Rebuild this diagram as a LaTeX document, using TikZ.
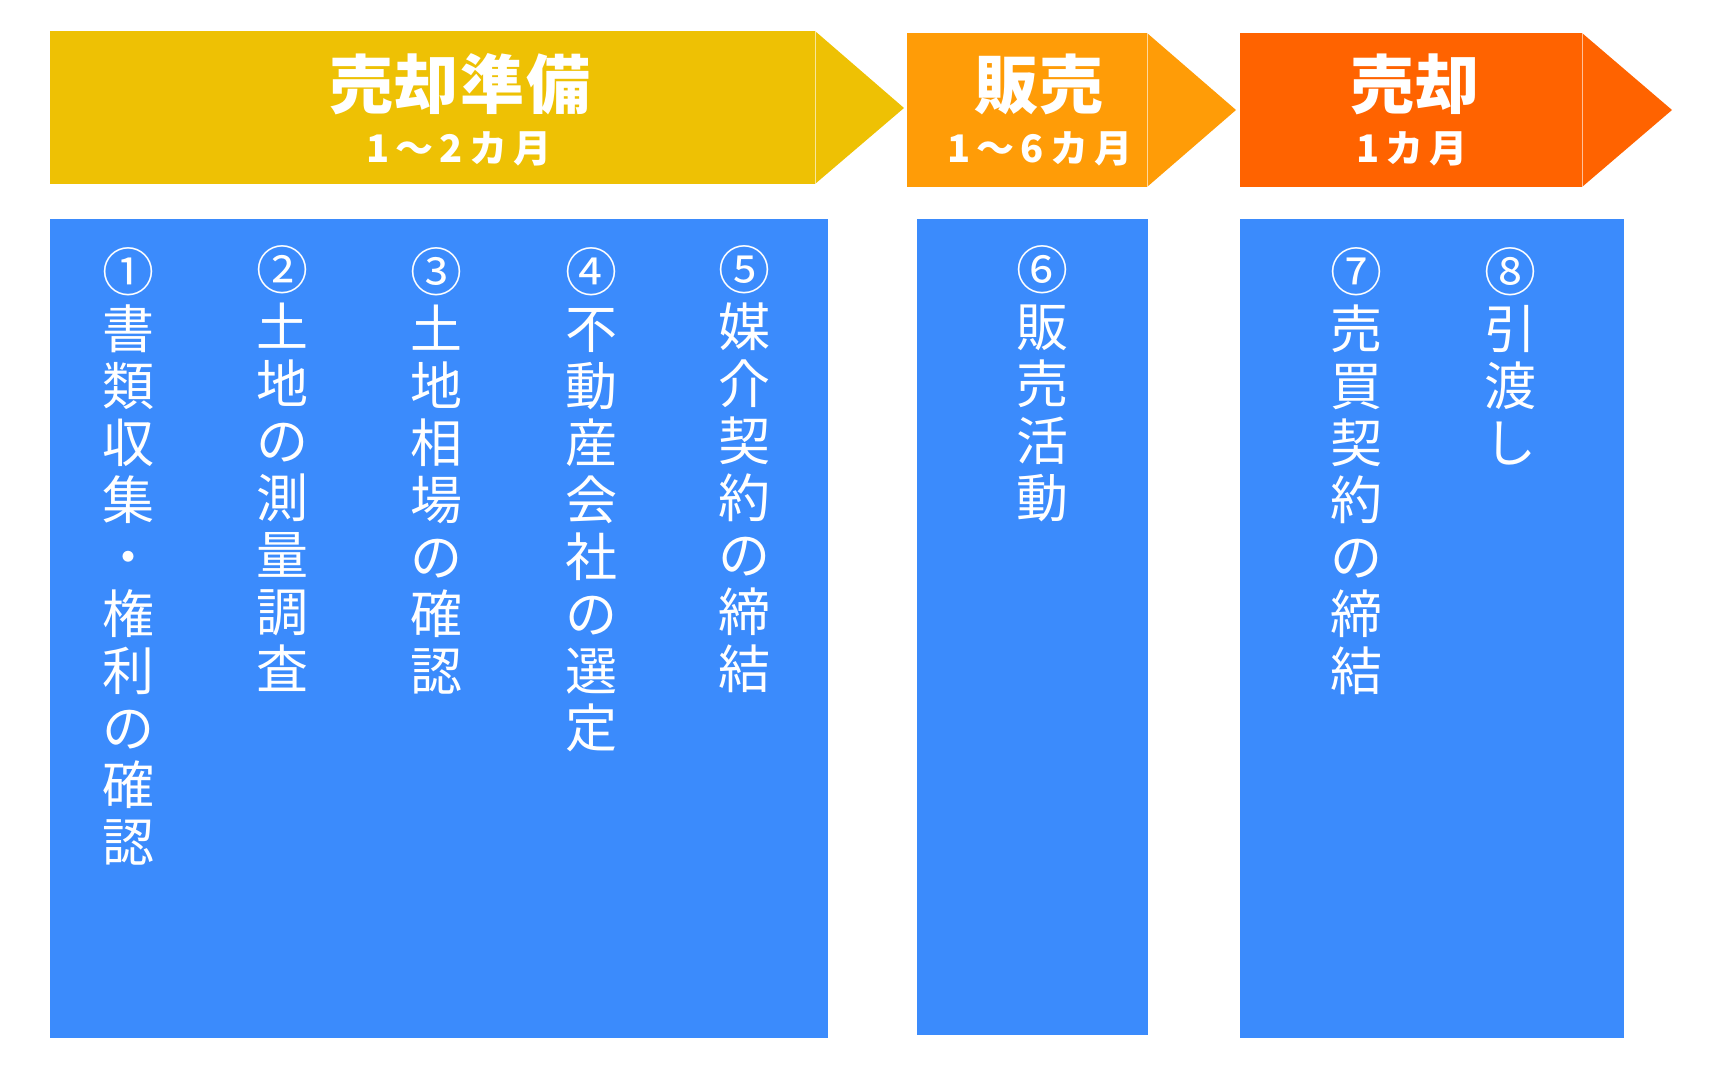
\documentclass[tikz,border=0pt]{standalone}
\usepackage{fontspec}
\setmainfont{Noto Sans CJK JP}
\newfontfamily\termfont[LetterSpace=16]{Noto Sans CJK JP}
\newfontfamily\titlefont[LetterSpace=3]{Noto Sans CJK JP}
\usetikzlibrary{positioning}
\definecolor{prepyellow}{RGB}{238,193,4}
\definecolor{saleorange}{RGB}{255,156,7}
\definecolor{dealorange}{RGB}{255,99,0}
\definecolor{stepblue}{RGB}{59,139,252}
\tikzset{
  phasetitle/.style={text=white, inner sep=0pt, font=\titlefont\fontsize{32}{32}\selectfont\bfseries},
  phaseterm/.style={text=white, inner sep=0pt, font=\termfont\fontsize{19}{19}\selectfont\bfseries},
  steptext/.style={text=white, inner sep=0pt, anchor=north, align=center,
                   font=\fontsize{26}{28.5}\selectfont},
  seam/.style={draw=white, draw opacity=0.6, line width=0.4pt}
}

\begin{document}
\begin{tikzpicture}[x=0.5pt, y=-0.5pt]
  \useasboundingbox (0,0) rectangle (1715,1080);
  % phase banners
  \fill[prepyellow] (50,31) rectangle (815,184);
  \fill[prepyellow] (815,31) -- (904,108) -- (815,184) -- cycle;
  \draw[seam] (815,31) -- (815,184);
  \fill[saleorange] (907,33) rectangle (1147,187);
  \fill[saleorange] (1147,33) -- (1236,110) -- (1147,187) -- cycle;
  \draw[seam] (1147,33) -- (1147,187);
  \fill[dealorange] (1240,33) rectangle (1582,187);
  \fill[dealorange] (1582,33) -- (1672,110) -- (1582,187) -- cycle;
  \draw[seam] (1582,33) -- (1582,187);
  \node[phasetitle] (prep) at (460,84) {売却準備};
  \node[phaseterm] (prepterm) at (459,149) {1～2カ月};
  \node[phasetitle] (sale) at (1039,84) {販売};
  \node[phaseterm] (saleterm) at (1040,149) {1～6カ月};
  \node[phasetitle] (deal) at (1415,84) {売却};
  \node[phaseterm] (dealterm) at (1412,149) {1カ月};
  % step boxes
  \fill[stepblue] (50,219) rectangle (828,1038);
  \fill[stepblue] (917,219) rectangle (1148,1035);
  \fill[stepblue] (1240,219) rectangle (1624,1038);
  \node[steptext] (step1) at (128,247) {①\\書\\類\\収\\集\\・\\権\\利\\の\\確\\認};
  \node[steptext] (step2) at (282,245) {②\\土\\地\\の\\測\\量\\調\\査};
  \node[steptext] (step3) at (436,247) {③\\土\\地\\相\\場\\の\\確\\認};
  \node[steptext] (step4) at (591,247) {④\\不\\動\\産\\会\\社\\の\\選\\定};
  \node[steptext] (step5) at (744,245) {⑤\\媒\\介\\契\\約\\の\\締\\結};
  \node[steptext] (step6) at (1042,245) {⑥\\販\\売\\活\\動};
  \node[steptext] (step7) at (1356,247) {⑦\\売\\買\\契\\約\\の\\締\\結};
  \node[steptext] (step8) at (1510,247) {⑧\\引\\渡\\し};
\end{tikzpicture}
\end{document}
